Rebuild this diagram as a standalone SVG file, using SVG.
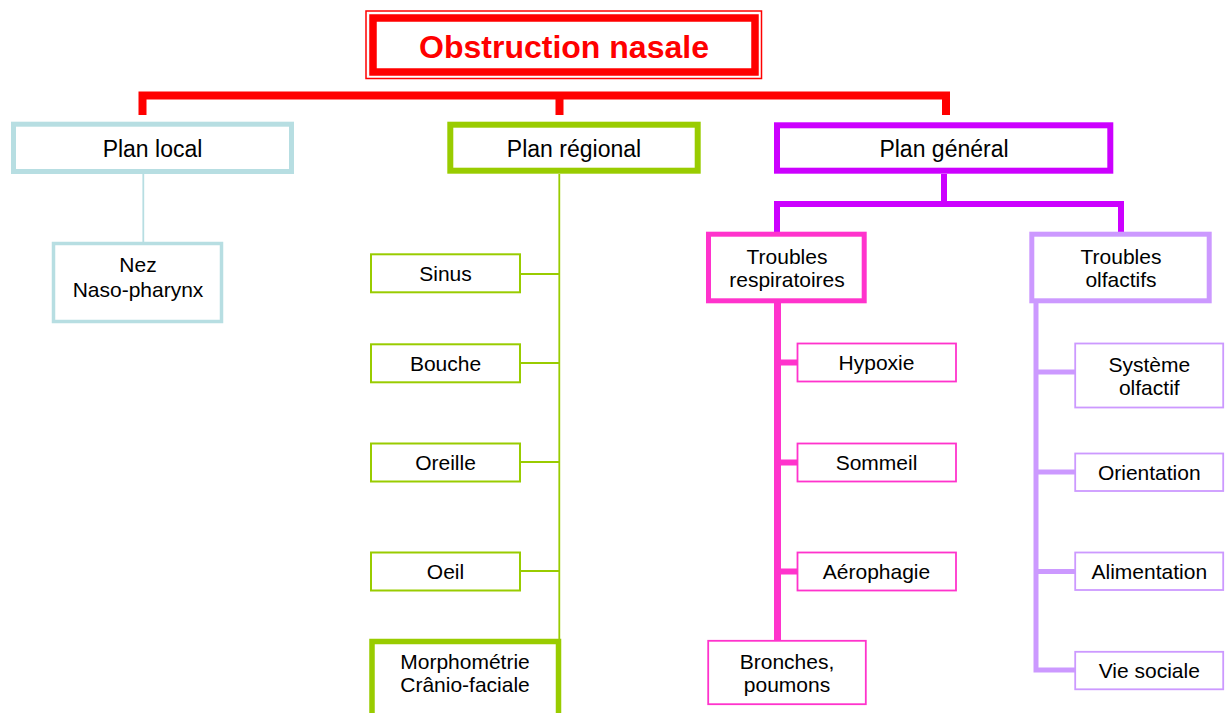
<svg xmlns="http://www.w3.org/2000/svg" width="1228" height="713" viewBox="0 0 1228 713">
<style>
text{font-family:"Liberation Sans",Arial,sans-serif;fill:#000;text-anchor:middle}
.t{font-size:21px}
.h{font-size:23px}
.box{fill:#fff}
.blue{stroke:#B7DEE2}
.green{stroke:#99CC00}
.pink{stroke:#FF33CC}
.lilac{stroke:#CC99FF}
.purple{stroke:#CC00FF}
.red{stroke:#FF0000}
.conn{fill:none}
</style>
<rect width="1228" height="713" fill="#fff"/>
<g id="connectors" class="conn">
  <path class="red" d="M142.5,115 V95.5 H946 V115 M559.5,95.5 V115" stroke-width="8"/>
  <path class="blue" d="M143.3,174 V242" stroke-width="1.8"/>
  <path class="green" d="M559.3,174 V713" stroke-width="1.8"/>
  <path class="green" d="M520,274 H559 M520,363 H559 M520,462 H559 M520,571 H559" stroke-width="1.8"/>
  <path class="purple" d="M944,174 V204 M777,232 V204 H1121 V232" stroke-width="6"/>
  <path class="pink" d="M777.5,303 V640" stroke-width="7"/>
  <path class="pink" d="M777,362.5 H797 M777,462.5 H797 M777,571.5 H797" stroke-width="6"/>
  <path class="lilac" d="M1036,303 V670 H1075 M1036,372 H1075 M1036,472 H1075 M1036,571.5 H1075" stroke-width="5"/>
</g>
<g id="title">
  <rect x="366" y="11" width="395.5" height="67.5" fill="#fff" stroke="#FF0000" stroke-width="1.5"/>
  <rect x="373" y="18" width="382" height="54" fill="#fff" stroke="#FF0000" stroke-width="7.5"/>
  <text x="564" y="58" style="font-size:32px;font-weight:bold;fill:#FF0000">Obstruction nasale</text>
</g>
<g id="plan-local">
  <rect class="box blue" x="13.5" y="124.2" width="278" height="47.3" stroke-width="5"/>
  <text class="h" x="152.5" y="157">Plan local</text>
</g>
<g id="nez">
  <rect class="box blue" x="53.5" y="243.5" width="168" height="78" stroke-width="3.5"/>
  <text class="t" x="138" y="272">Nez</text>
  <text class="t" x="138" y="297">Naso-pharynx</text>
</g>
<g id="plan-regional">
  <rect class="box green" x="450.3" y="124.7" width="247.4" height="46" stroke-width="6"/>
  <text class="h" x="574" y="157">Plan régional</text>
</g>
<g id="sinus">
  <rect class="box green" x="371" y="254.3" width="149" height="38" stroke-width="2"/>
  <text class="t" x="445.5" y="281">Sinus</text>
</g>
<g id="bouche">
  <rect class="box green" x="371" y="344.3" width="149" height="38" stroke-width="2"/>
  <text class="t" x="445.5" y="371">Bouche</text>
</g>
<g id="oreille">
  <rect class="box green" x="371" y="443.5" width="149" height="38" stroke-width="2"/>
  <text class="t" x="445.5" y="470">Oreille</text>
</g>
<g id="oeil">
  <rect class="box green" x="371" y="552.5" width="149" height="38" stroke-width="2"/>
  <text class="t" x="445.5" y="579">Oeil</text>
</g>
<g id="morphometrie">
  <rect class="box green" x="372" y="641.5" width="186.5" height="90" stroke-width="5.5"/>
  <text class="t" x="465" y="668.5">Morphométrie</text>
  <text class="t" x="465" y="692">Crânio-faciale</text>
</g>
<g id="plan-general">
  <rect class="box purple" x="777" y="125.3" width="333.3" height="45.4" stroke-width="6"/>
  <text class="h" x="944" y="157">Plan général</text>
</g>
<g id="troubles-respiratoires">
  <rect class="box pink" x="708.5" y="234.2" width="155.7" height="66.6" stroke-width="5"/>
  <text class="t" x="787" y="263.5">Troubles</text>
  <text class="t" x="787" y="287">respiratoires</text>
</g>
<g id="hypoxie">
  <rect class="box pink" x="797.5" y="343.5" width="158.5" height="38" stroke-width="1.8"/>
  <text class="t" x="876.5" y="370">Hypoxie</text>
</g>
<g id="sommeil">
  <rect class="box pink" x="797.5" y="443.5" width="158.5" height="38" stroke-width="1.8"/>
  <text class="t" x="876.5" y="470">Sommeil</text>
</g>
<g id="aerophagie">
  <rect class="box pink" x="797.5" y="552.5" width="158.5" height="38" stroke-width="1.8"/>
  <text class="t" x="876.5" y="579">Aérophagie</text>
</g>
<g id="bronches">
  <rect class="box pink" x="708.2" y="640.8" width="157.6" height="63.4" stroke-width="1.8"/>
  <text class="t" x="787" y="668.5">Bronches,</text>
  <text class="t" x="787" y="692">poumons</text>
</g>
<g id="troubles-olfactifs">
  <rect class="box lilac" x="1031.8" y="234.2" width="177.4" height="66.6" stroke-width="5"/>
  <text class="t" x="1121" y="263.5">Troubles</text>
  <text class="t" x="1121" y="287">olfactifs</text>
</g>
<g id="systeme">
  <rect class="box lilac" x="1075.2" y="343.5" width="148" height="64" stroke-width="1.8"/>
  <text class="t" x="1149.3" y="371.5">Système</text>
  <text class="t" x="1149.3" y="395">olfactif</text>
</g>
<g id="orientation">
  <rect class="box lilac" x="1075.2" y="453.5" width="148" height="37.5" stroke-width="1.8"/>
  <text class="t" x="1149.3" y="480">Orientation</text>
</g>
<g id="alimentation">
  <rect class="box lilac" x="1075.2" y="552.5" width="148" height="37.5" stroke-width="1.8"/>
  <text class="t" x="1149.3" y="579">Alimentation</text>
</g>
<g id="vie-sociale">
  <rect class="box lilac" x="1075.2" y="651.8" width="148" height="37.5" stroke-width="1.8"/>
  <text class="t" x="1149.3" y="678">Vie sociale</text>
</g>
</svg>
